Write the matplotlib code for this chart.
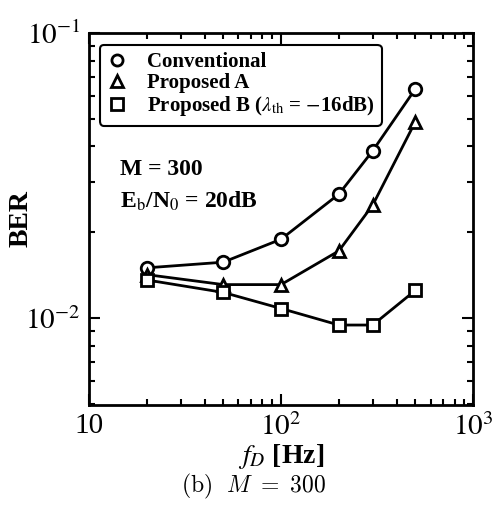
import matplotlib
matplotlib.use("Agg")
import matplotlib.pyplot as plt
from matplotlib.lines import Line2D
from matplotlib.ticker import LogLocator, NullFormatter, FixedLocator, FixedFormatter

plt.rcParams['font.family'] = ['Liberation Serif', 'DejaVu Serif']
plt.rcParams['mathtext.fontset'] = 'stix'

fd = [20, 50, 100, 200, 300, 500]
ber_conv = [0.0150, 0.0157, 0.0189, 0.0272, 0.0386, 0.0636]
ber_a = [0.0142, 0.0131, 0.0131, 0.0172, 0.0249, 0.0488]
ber_b = [0.0136, 0.0123, 0.0108, 0.00945, 0.00945, 0.0125]
labels = ['Conventional', 'Proposed A', r'Proposed B ($\lambda_{\rm th}$ = $-$16dB)']

xticks = [10, 100, 1000]
xticklabels = ['10', r'$10^2$', r'$10^3$']
yticks = [0.01, 0.1]
yticklabels = [r'$10^{-2}$', r'$10^{-1}$']

fig = plt.figure(figsize=(4.97, 5.07), dpi=100)
ax = fig.add_axes([0.179, 0.201, 0.773, 0.734])

kw = dict(color='black', lw=2, mfc='white', mec='black', mew=2, ms=9)
ax.plot(fd, ber_conv, marker='o', **kw)
ax.plot(fd, ber_a, marker='^', **kw)
ax.plot(fd, ber_b, marker='s', **kw)

ax.set_xscale('log')
ax.set_yscale('log')
ax.set_xlim(10, 1000)
ax.set_ylim(0.00495, 0.1)

ax.xaxis.set_major_locator(FixedLocator(xticks))
ax.xaxis.set_major_formatter(FixedFormatter(xticklabels))
ax.yaxis.set_major_locator(FixedLocator(yticks))
ax.yaxis.set_major_formatter(FixedFormatter(yticklabels))
ax.xaxis.set_minor_locator(LogLocator(base=10, subs=range(2, 10)))
ax.yaxis.set_minor_locator(LogLocator(base=10, subs=range(2, 10)))
ax.xaxis.set_minor_formatter(NullFormatter())
ax.yaxis.set_minor_formatter(NullFormatter())

ax.tick_params(which='both', direction='in', top=True, right=True, width=1.5)
ax.tick_params(which='major', length=8, labelsize=21, pad=6)
ax.tick_params(which='minor', length=4)
for s in ax.spines.values():
    s.set_linewidth(2)

ax.set_ylabel('BER', fontsize=20, fontweight='bold')
ax.yaxis.set_label_coords(-0.145, 0.5)
ax.set_xlabel(r'$f_D$ [Hz]', fontsize=20, fontweight='bold', va='top')
ax.xaxis.set_label_coords(0.5, -0.1)

handles = [Line2D([], [], ls='none', marker=m, mfc='white', mec='black', mew=2, ms=8)
           for m in ['o', '^', 's']]
leg = ax.legend(handles, labels, loc='upper left', bbox_to_anchor=(0.028, 0.968),
                prop={'weight': 'bold', 'size': 15}, frameon=True, fancybox=True,
                edgecolor='black', handlelength=1.0, handletextpad=0.9,
                labelspacing=0.05, borderpad=0.35, borderaxespad=0, numpoints=1,
                framealpha=1)
leg.get_frame().set_linewidth(1.5)

ax.text(0.08, 0.632, 'M = 300', transform=ax.transAxes, fontsize=17,
        fontweight='bold', va='center')
ax.text(0.08, 0.548, r'E$_{\rm b}$/N$_0$ = 20dB', transform=ax.transAxes,
        fontsize=17, fontweight='bold', va='center')

fig.text(0.51, 0.04, r'$\mathrm{(b)}\ \ M\ =\ 300$', ha='center', va='center',
         fontsize=17, math_fontfamily='cm')

fig.savefig('out.png', dpi=100)
